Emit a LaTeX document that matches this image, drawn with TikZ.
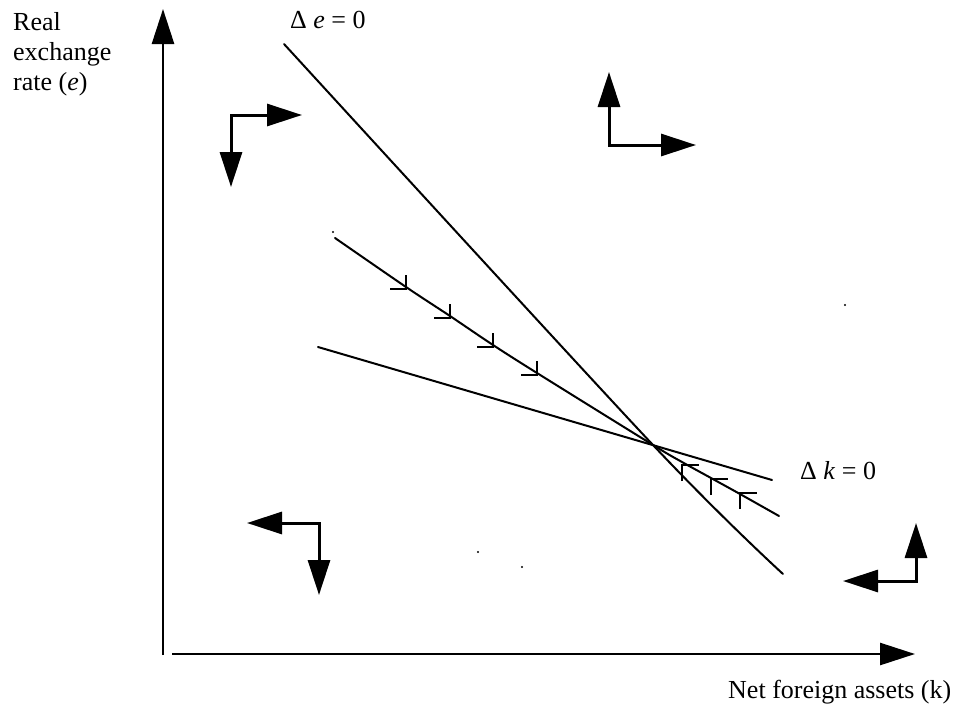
\documentclass[tikz,border=0pt]{standalone}
\usepackage{fontspec}
\setmainfont{Liberation Serif}
\usetikzlibrary{arrows.meta}
\begin{document}
\begin{tikzpicture}[x=1pt,y=-1pt,
  head/.tip={Triangle[length=35pt,width=22pt]},
  axisline/.style={-head, line width=2.6pt},
  dirpair/.style={head-head, line width=3pt, line join=miter},
  curveline/.style={line width=2pt, line cap=round},
  tickmark/.style={line width=2pt, line join=miter},
  dotmark/.style={fill=black, draw=none},
  lbl/.style={inner sep=0pt, font=\fontsize{26}{30}\selectfont}]
\useasboundingbox (0,0) rectangle (959,710);
% axes
\coordinate (yb) at (163,655);
\coordinate (yt) at (163,9);
\coordinate (xb) at (172,654);
\coordinate (xt) at (915,654);
\draw[axisline] (yb) -- (yt);
\draw[axisline] (xb) -- (xt);
% labels
\node[lbl, anchor=base west] (lr1) at (13,30) {Real};
\node[lbl, anchor=base west] (lr2) at (13,60) {exchange};
\node[lbl, anchor=base west] (lr3) at (13,90) {rate (\textit{e})};
\node[lbl, anchor=base west] (lx) at (728,698) {Net foreign assets (k)};
\node[lbl, anchor=base west] (le) at (290,28) {Δ \textit{e} = 0};
\node[lbl, anchor=base west] (lk) at (800,479) {Δ \textit{k} = 0};
% Delta e = 0 line
\coordinate (e1) at (284,44);
\coordinate (ss) at (653,445);
\coordinate (e2) at (783,574);
\draw[curveline] plot[smooth] coordinates {(e1) (ss) (e2)};
% Delta k = 0 line
\coordinate (k1) at (318,347);
\coordinate (k2) at (772,480);
\draw[curveline] (k1) -- (k2);
% saddle path
\draw[curveline] plot[smooth, tension=0.5] coordinates {(335,238) (406,287) (450,316) (493,345) (537,373) (ss) (682,462) (711,478) (740,494) (779,516)};
% ticks upper
\foreach \X/\Y in {406/289, 450/318, 493/347, 537/375}
  \draw[tickmark] (\X-16,\Y) -- (\X,\Y) -- (\X,\Y-14);
% ticks lower
\foreach \X/\Y in {682/465, 711/479, 740/493}
  \draw[tickmark] (\X,\Y+16) -- (\X,\Y) -- (\X+17,\Y);
% direction pairs
\coordinate (c1) at (231,115); \coordinate (c1r) at (302,115); \coordinate (c1d) at (231,187);
\draw[dirpair] (c1r) -- (c1) -- (c1d);
\coordinate (c2) at (609,145); \coordinate (c2u) at (609,72); \coordinate (c2r) at (696,145);
\draw[dirpair] (c2u) -- (c2) -- (c2r);
\coordinate (c3) at (319,523); \coordinate (c3l) at (247,523); \coordinate (c3d) at (319,595);
\draw[dirpair] (c3l) -- (c3) -- (c3d);
\coordinate (c4) at (916,581); \coordinate (c4u) at (916,523); \coordinate (c4l) at (843,581);
\draw[dirpair] (c4u) -- (c4) -- (c4l);
% stray dots
\foreach \X/\Y in {333/232, 845/305, 478/552, 522/567}
  \fill[dotmark] (\X,\Y) circle (1.1);
\end{tikzpicture}
\end{document}
